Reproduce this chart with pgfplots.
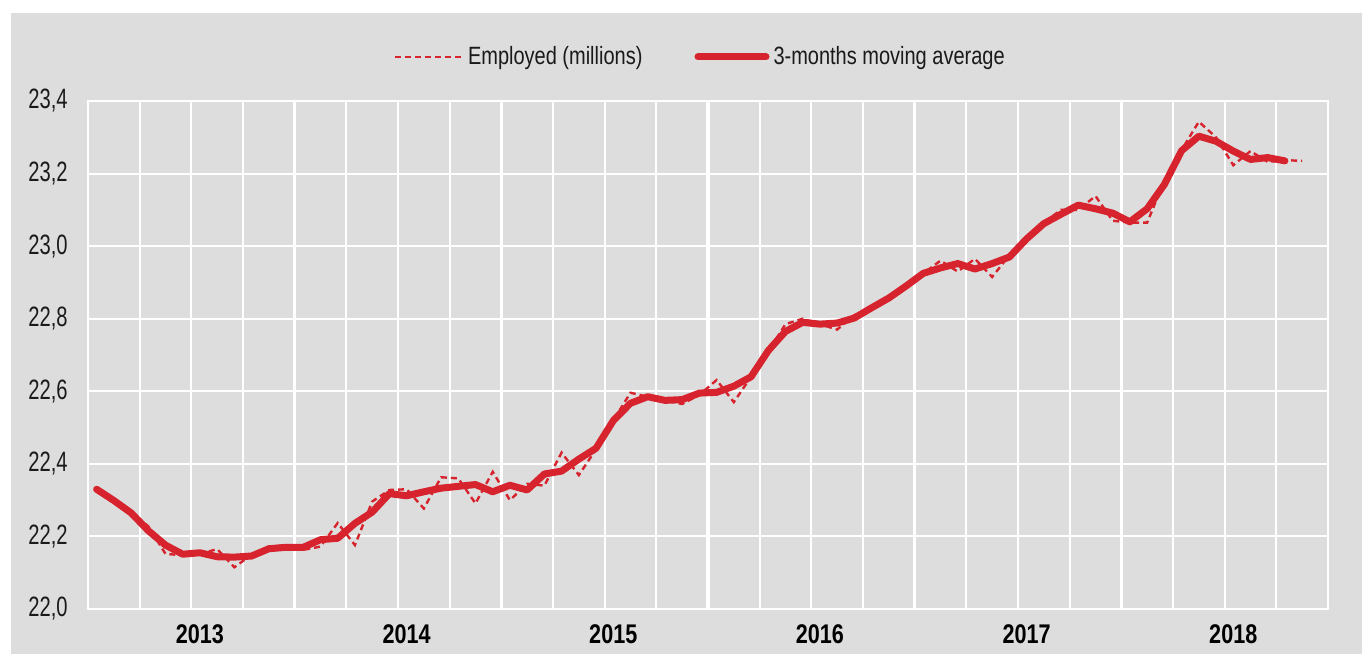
\documentclass[border=0pt]{standalone}
\usepackage{fontspec}
\setmainfont{Liberation Sans}[FakeStretch=0.8]
\newfontfamily\tickfont{Liberation Sans}[FakeStretch=0.72]
\usepackage{pgfplots}
\pgfplotsset{compat=1.18}
\definecolor{bg}{RGB}{221,221,221}
\definecolor{cred}{RGB}{215,35,45}
\definecolor{txt}{RGB}{26,26,26}

\pgfplotstableread{
x y
0.5 22.330
1.5 22.300
2.5 22.268
3.5 22.228
4.5 22.152
5.5 22.148
6.5 22.152
7.5 22.165
8.5 22.115
9.5 22.150
10.5 22.172
11.5 22.175
12.5 22.163
13.5 22.172
14.5 22.237
15.5 22.176
16.5 22.296
17.5 22.328
18.5 22.330
19.5 22.277
20.5 22.363
21.5 22.360
22.5 22.291
23.5 22.378
24.5 22.300
25.5 22.345
26.5 22.340
27.5 22.431
28.5 22.369
29.5 22.440
30.5 22.520
31.5 22.596
32.5 22.585
33.5 22.575
34.5 22.565
35.5 22.590
36.5 22.631
37.5 22.570
38.5 22.640
39.5 22.710
40.5 22.785
41.5 22.800
42.5 22.785
43.5 22.770
44.5 22.810
45.5 22.825
46.5 22.855
47.5 22.890
48.5 22.925
49.5 22.960
50.5 22.930
51.5 22.965
52.5 22.915
53.5 22.975
54.5 23.020
55.5 23.065
56.5 23.100
57.5 23.100
58.5 23.138
59.5 23.070
60.5 23.065
61.5 23.065
62.5 23.180
63.5 23.265
64.5 23.343
65.5 23.300
66.5 23.223
67.5 23.262
68.5 23.232
69.5 23.237
70.5 23.235
}\employed

\pgfplotstableread{
x y
0.5 22.330
1.5 22.299
2.5 22.265
3.5 22.216
4.5 22.176
5.5 22.151
6.5 22.155
7.5 22.144
8.5 22.143
9.5 22.146
10.5 22.166
11.5 22.170
12.5 22.170
13.5 22.191
14.5 22.195
15.5 22.236
16.5 22.267
17.5 22.318
18.5 22.312
19.5 22.323
20.5 22.333
21.5 22.338
22.5 22.343
23.5 22.323
24.5 22.341
25.5 22.328
26.5 22.372
27.5 22.380
28.5 22.413
29.5 22.443
30.5 22.519
31.5 22.567
32.5 22.585
33.5 22.575
34.5 22.577
35.5 22.595
36.5 22.597
37.5 22.614
38.5 22.640
39.5 22.712
40.5 22.765
41.5 22.790
42.5 22.785
43.5 22.788
44.5 22.802
45.5 22.830
46.5 22.857
47.5 22.890
48.5 22.925
49.5 22.940
50.5 22.952
51.5 22.937
52.5 22.952
53.5 22.970
54.5 23.020
55.5 23.062
56.5 23.088
57.5 23.113
58.5 23.103
59.5 23.091
60.5 23.067
61.5 23.103
62.5 23.170
63.5 23.263
64.5 23.303
65.5 23.289
66.5 23.262
67.5 23.239
68.5 23.244
69.5 23.235
}\movavg

\begin{document}
\begin{tikzpicture}
\fill[white] (0pt,0pt) rectangle (681pt,327pt);
\fill[bg] (5.5pt,0pt) rectangle (681pt,320.5pt);
\begin{axis}[
  at={(44pt,22.5pt)}, anchor=south west,
  scale only axis, width=620pt, height=254pt,
  xmin=0, xmax=72, ymin=22, ymax=23.4,
  axis line style={white, line width=1pt},
  axis background/.style={fill=bg},
  major tick length=0pt, minor tick length=0pt,
  tick style={draw=none},
  ytick={22,22.2,22.4,22.6,22.8,23,23.2,23.4},
  ymajorgrids,
  major grid style={white, line width=1pt},
  minor grid style={white, line width=1pt},
  xtick={6.5,18.5,30.5,42.5,54.5,66.5},
  xticklabels={2013,2014,2015,2016,2017,2018},
  xmajorgrids=false,
  minor xtick={0,3,...,72},
  xminorgrids,
  extra x ticks={12,24,36,48,60},
  extra x tick labels={},
  extra x tick style={xmajorgrids=true, major grid style={white, line width=1.6pt}},
  /pgf/number format/.cd, use comma, fixed, fixed zerofill, precision=1, assume math mode=true,
  /pgfplots/.cd,
  yticklabel style={font=\tickfont\fontsize{14}{14}\selectfont, text=txt, anchor=east, inner sep=0pt, xshift=-10pt},
  xticklabel style={font=\bfseries\fontsize{13.5}{13.5}\selectfont, text=black, anchor=north, inner sep=0pt, yshift=-7.5pt},
  legend style={at={(0.4945,1)}, anchor=center, yshift=22pt, draw=none, fill=none,
    font=\fontsize{12.5}{12.5}\selectfont, text=txt, nodes={inner sep=2pt},
    /tikz/every even column/.append style={column sep=24pt}},
  legend columns=2,
  legend image code/.code={\draw[#1] (0pt,0pt) -- (34pt,0pt);},
]
\addplot[cred, line width=1.2pt, dash pattern=on 3pt off 2pt] table[x=x,y=y] {\employed};
\addlegendentry{Employed (millions)}
\addplot[cred, line width=3.5pt, line join=round, line cap=round] table[x=x,y=y] {\movavg};
\addlegendentry{3-months moving average}
\end{axis}
\end{tikzpicture}
\end{document}
